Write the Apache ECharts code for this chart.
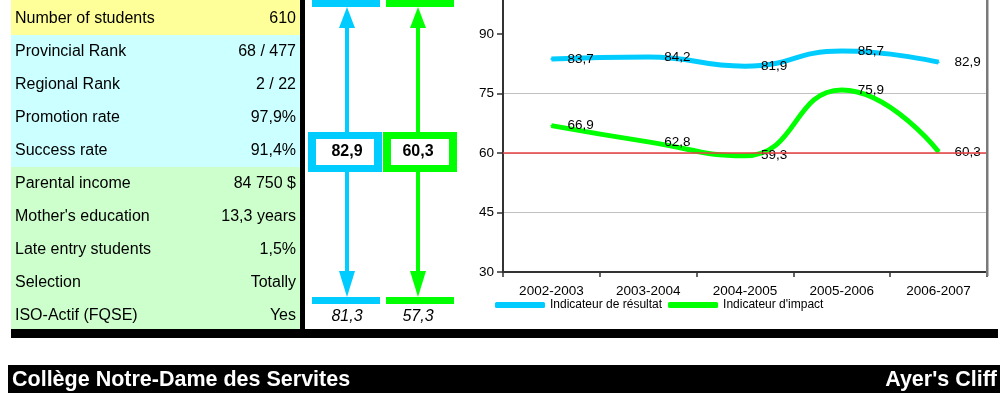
<!DOCTYPE html>
<html>
<head>
<meta charset="utf-8">
<script src="https://cdn.jsdelivr.net/npm/echarts@6/dist/echarts.min.js"></script>
<style>
html,body{margin:0;padding:0;background:#fff;}
#c{width:1003px;height:398px;}
</style>
</head>
<body>
<div id="c"></div>
<script>
// ---- data ----
const categories = ['2002-2003', '2003-2004', '2004-2005', '2005-2006', '2006-2007'];
const resultat = [83.7, 84.2, 81.9, 85.7, 82.9];
const impact = [66.9, 62.8, 59.3, 75.9, 60.3];
const seriesNames = ['Indicateur de résultat', "Indicateur d'impact"];
const yTicks = [30, 45, 60, 75, 90];
const threshold = 60;

const tableLabels = ['Number of students', 'Provincial Rank', 'Regional Rank', 'Promotion rate', 'Success rate',
  'Parental income', "Mother's education", 'Late entry students', 'Selection', 'ISO-Actif (FQSE)'];
const tableValues = ['610', '68 / 477', '2 / 22', '97,9%', '91,4%', '84 750 $', '13,3 years', '1,5%', 'Totally', 'Yes'];
const tableGroups = [0, 1, 1, 1, 1, 2, 2, 2, 2, 2];

const currentValues = ['82,9', '60,3'];
const previousValues = ['81,3', '57,3'];

const schoolName = 'Collège Notre-Dame des Servites';
const cityName = "Ayer's Cliff";

// ---- styles ----
const FONT = '"Liberation Sans", Arial, sans-serif';
const BLUE = '#00CCFF', GREEN = '#00FF00';
const groupColors = ['#FFFF99', '#CCFFFF', '#CCFFCC'];
const seriesColors = [BLUE, GREEN];
const GRID_LEFT = 503, GRID_TOP = 0, GRID_W = 484, GRID_H = 272;

const graphics = [];
// table rows
const rowH = 33;
for (let i = 0; i < tableLabels.length; i++) {
  const top = i === 0 ? 0 : 2 + i * rowH;
  const bottom = i === tableLabels.length - 1 ? 329 : 2 + (i + 1) * rowH;
  const cy = 18.5 + i * rowH;
  graphics.push({type: 'rect', shape: {x: 11, y: top, width: 289, height: bottom - top},
    style: {fill: groupColors[tableGroups[i]]}, z: 1});
  graphics.push({type: 'text', x: 15, y: cy, style: {text: tableLabels[i], font: '16px ' + FONT,
    fill: '#000', textVerticalAlign: 'middle', textAlign: 'left'}, z: 2});
  graphics.push({type: 'text', x: 296, y: cy, style: {text: tableValues[i], font: '16px ' + FONT,
    fill: '#000', textVerticalAlign: 'middle', textAlign: 'right'}, z: 2});
}
// black frame bits
graphics.push({type: 'rect', shape: {x: 300, y: 0, width: 5, height: 329}, style: {fill: '#000'}, z: 3});
graphics.push({type: 'rect', shape: {x: 11, y: 329, width: 987, height: 9}, style: {fill: '#000'}, z: 30});
// plot area right border
graphics.push({type: 'rect', shape: {x: 986, y: 0, width: 2.5, height: 276},
  style: {fill: '#7a7a7a'}, z: 40});
// title bar
graphics.push({type: 'rect', shape: {x: 8, y: 365, width: 992, height: 28}, style: {fill: '#000'}, z: 3});
graphics.push({type: 'text', x: 12, y: 380, style: {text: schoolName, font: 'bold 21.5px ' + FONT,
  fill: '#fff', textVerticalAlign: 'middle', textAlign: 'left'}, z: 4});
graphics.push({type: 'text', x: 997, y: 380, style: {text: cityName, font: 'bold 21.5px ' + FONT,
  fill: '#fff', textVerticalAlign: 'middle', textAlign: 'right'}, z: 4});

// middle indicator panel
const cols = [
  {cx: 347, barX: 312, boxX: 308, color: BLUE},
  {cx: 418, barX: 386, boxX: 383, color: GREEN}
];
cols.forEach((c, k) => {
  graphics.push({type: 'rect', shape: {x: c.barX, y: 0, width: 68, height: 7}, style: {fill: c.color}, z: 3});
  graphics.push({type: 'rect', shape: {x: c.cx - 2, y: 27, width: 4, height: 106}, style: {fill: c.color}, z: 3});
  graphics.push({type: 'polygon', shape: {points: [[c.cx, 7], [c.cx - 8, 28], [c.cx + 8, 28]]}, style: {fill: c.color}, z: 3});
  graphics.push({type: 'rect', shape: {x: c.boxX, y: 132, width: 74, height: 40}, style: {fill: c.color}, z: 3});
  graphics.push({type: 'rect', shape: {x: c.boxX + 8, y: 139, width: 58, height: 26}, style: {fill: '#fff'}, z: 4});
  graphics.push({type: 'text', x: c.cx, y: 152, style: {text: currentValues[k], font: 'bold 16px ' + FONT,
    fill: '#000', textAlign: 'center', textVerticalAlign: 'middle'}, z: 5});
  graphics.push({type: 'rect', shape: {x: c.cx - 2, y: 171, width: 4, height: 101}, style: {fill: c.color}, z: 3});
  graphics.push({type: 'polygon', shape: {points: [[c.cx, 297], [c.cx - 8, 271], [c.cx + 8, 271]]}, style: {fill: c.color}, z: 3});
  graphics.push({type: 'rect', shape: {x: c.barX, y: 297, width: 68, height: 7}, style: {fill: c.color}, z: 3});
  graphics.push({type: 'text', x: c.cx, y: 317, style: {text: previousValues[k], font: 'italic 16px ' + FONT,
    fill: '#000', textAlign: 'center', textVerticalAlign: 'middle'}, z: 5});
});
// clip strip under x labels (legend area)
graphics.push({type: 'rect', shape: {x: 462, y: 295, width: 536, height: 34}, style: {fill: '#fff'}, z: 10});

const fmt = p => String(p.value).replace('.', ',');

const chart = echarts.init(document.getElementById('c'), null, {renderer: 'canvas'});
chart.setOption({
  animation: false,
  backgroundColor: '#fff',
  textStyle: {fontFamily: FONT},
  graphic: {elements: graphics},
  grid: {left: GRID_LEFT, top: GRID_TOP, width: GRID_W, height: GRID_H},
  legend: {
    data: seriesNames, left: 495, top: 299, itemWidth: 50, itemHeight: 6, itemGap: 6, icon: 'roundRect',
    textStyle: {fontSize: 12, color: '#000', fontFamily: FONT}, padding: 0, z: 20
  },
  xAxis: {
    type: 'category', data: categories, boundaryGap: true,
    axisLine: {lineStyle: {color: '#333', width: 2}},
    axisTick: {show: true, length: 5, lineStyle: {color: '#333', width: 1.5}},
    axisLabel: {fontSize: 13.5, color: '#000', margin: 12, fontFamily: FONT},
    splitLine: {show: false}
  },
  yAxis: {
    type: 'value', min: 30, max: 98.57, interval: 15,
    axisLine: {show: true, lineStyle: {color: '#333', width: 2}},
    axisTick: {show: true, length: 6, lineStyle: {color: '#333', width: 1.5},
      customValues: yTicks},
    axisLabel: {fontSize: 13.5, color: '#000', margin: 9, fontFamily: FONT, customValues: yTicks,
      formatter: v => (yTicks.indexOf(v) >= 0 ? String(v) : '')},
    splitLine: {showMaxLine: false, lineStyle: {color: '#c0c0c0', width: 1}}
  },
  series: [resultat, impact].map((d, k) => ({
    name: seriesNames[k], type: 'line', data: d, smooth: 0.5,
    symbol: 'circle', symbolSize: 2, showSymbol: true,
    itemStyle: {color: seriesColors[k]},
    lineStyle: {color: seriesColors[k], width: 5},
    label: {show: true, position: 'right', distance: 15, fontSize: 13.5, color: '#000', formatter: fmt, fontFamily: FONT},
    markLine: k === 0 ? {silent: true, symbol: 'none', label: {show: false},
      lineStyle: {color: '#e84040', width: 1.5, type: 'solid'}, data: [{yAxis: threshold}]} : undefined,
    z: 3
  }))
});
</script>
</body>
</html>
